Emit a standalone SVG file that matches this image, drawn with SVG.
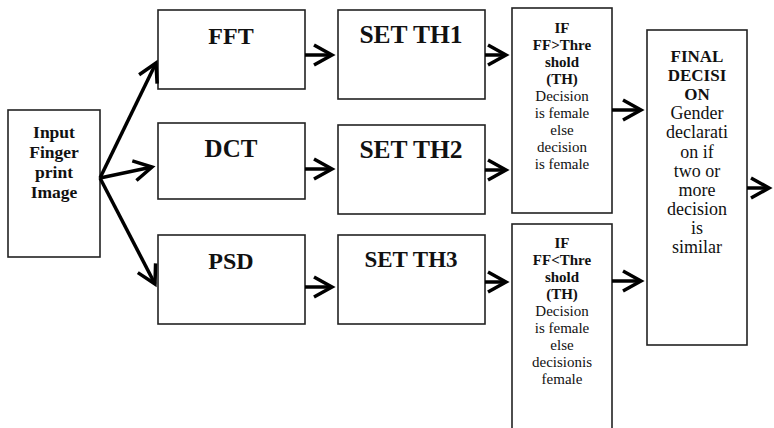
<svg xmlns="http://www.w3.org/2000/svg" width="774" height="428" viewBox="0 0 774 428">
<defs>
<marker id="ah" markerUnits="userSpaceOnUse" markerWidth="26" markerHeight="26" viewBox="0 0 26 26" refX="20" refY="13" orient="auto" overflow="visible">
<path d="M2,3 L20,13 L2,23" fill="none" stroke="#000" stroke-width="3.5" stroke-linejoin="miter"/>
</marker>
</defs>
<style>
.box{fill:#fff;stroke:#222;stroke-width:1.6}
.con{stroke:#000;stroke-width:3.5;fill:none;marker-end:url(#ah)}
text{font-family:'Liberation Serif','Times New Roman',Times,serif;text-anchor:middle;fill:#111}
.big{font-size:24px;font-weight:bold}
.mid{font-size:17.5px;font-weight:bold}
.sb{font-size:15px;font-weight:bold}
.sr{font-size:15px}
.fb{font-size:17px;font-weight:bold}
.fr{font-size:18px}
</style>
<rect width="774" height="428" fill="#fff"/>
<g id="input">
<rect class="box" x="8" y="110" width="92" height="147"/>
<text class="mid" x="54" y="138">Input</text>
<text class="mid" x="54" y="158">Finger</text>
<text class="mid" x="54" y="178">print</text>
<text class="mid" x="54" y="198">Image</text>
</g>
<g id="fft">
<rect class="box" x="158" y="10" width="147" height="79"/>
<text class="big" x="231" y="44">FFT</text>
</g>
<g id="dct">
<rect class="box" x="158" y="123" width="147" height="76"/>
<text class="big" x="231" y="157" style="font-size:25px">DCT</text>
</g>
<g id="psd">
<rect class="box" x="158" y="235" width="147" height="89"/>
<text class="big" x="231" y="269">PSD</text>
</g>
<g id="th1">
<rect class="box" x="338" y="10" width="147" height="89"/>
<text class="big" x="411" y="43" style="font-size:25.5px">SET TH1</text>
</g>
<g id="th2">
<rect class="box" x="338" y="125" width="147" height="89"/>
<text class="big" x="411" y="158" style="font-size:25.5px">SET TH2</text>
</g>
<g id="th3">
<rect class="box" x="338" y="235" width="147" height="89"/>
<text class="big" x="411" y="267" style="font-size:23px">SET TH3</text>
</g>
<g id="if1">
<rect class="box" x="512" y="8" width="100" height="205"/>
<text class="sb" x="562" y="33">IF</text>
<text class="sb" x="562" y="50">FF&gt;Thre</text>
<text class="sb" x="562" y="67">shold</text>
<text class="sb" x="562" y="84">(TH)</text>
<text class="sr" x="562" y="101">Decision</text>
<text class="sr" x="562" y="118">is female</text>
<text class="sr" x="562" y="135">else</text>
<text class="sr" x="562" y="152">decision</text>
<text class="sr" x="562" y="169">is female</text>
</g>
<g id="if2">
<rect class="box" x="512" y="224" width="100" height="210"/>
<text class="sb" x="562" y="248">IF</text>
<text class="sb" x="562" y="265">FF&lt;Thre</text>
<text class="sb" x="562" y="282">shold</text>
<text class="sb" x="562" y="299">(TH)</text>
<text class="sr" x="562" y="316">Decision</text>
<text class="sr" x="562" y="333">is female</text>
<text class="sr" x="562" y="350">else</text>
<text class="sr" x="562" y="367">decisionis</text>
<text class="sr" x="562" y="384">female</text>
</g>
<g id="final">
<rect class="box" x="647" y="30" width="100" height="315"/>
<text class="fb" x="697" y="62">FINAL</text>
<text class="fb" x="697" y="81">DECISI</text>
<text class="fb" x="697" y="100">ON</text>
<text class="fr" x="697" y="119">Gender</text>
<text class="fr" x="697" y="138">declarati</text>
<text class="fr" x="697" y="158">on if</text>
<text class="fr" x="697" y="177">two or</text>
<text class="fr" x="697" y="196">more</text>
<text class="fr" x="697" y="215">decision</text>
<text class="fr" x="697" y="234">is</text>
<text class="fr" x="697" y="253">similar</text>
</g>
<g id="connectors">
<line class="con" x1="100" y1="178" x2="156" y2="63"/>
<line class="con" x1="100" y1="178" x2="152" y2="167"/>
<line class="con" x1="100" y1="178" x2="155" y2="284"/>
<line class="con" x1="305" y1="55" x2="332" y2="55"/>
<line class="con" x1="305" y1="169" x2="332" y2="169"/>
<line class="con" x1="305" y1="287" x2="332" y2="287"/>
<line class="con" x1="485" y1="55" x2="506" y2="55"/>
<line class="con" x1="485" y1="170" x2="506" y2="170"/>
<line class="con" x1="485" y1="282" x2="506" y2="282"/>
<line class="con" x1="612" y1="110" x2="641" y2="110"/>
<line class="con" x1="612" y1="281" x2="641" y2="281"/>
<line class="con" x1="747" y1="188" x2="769" y2="188"/>
</g>
</svg>
